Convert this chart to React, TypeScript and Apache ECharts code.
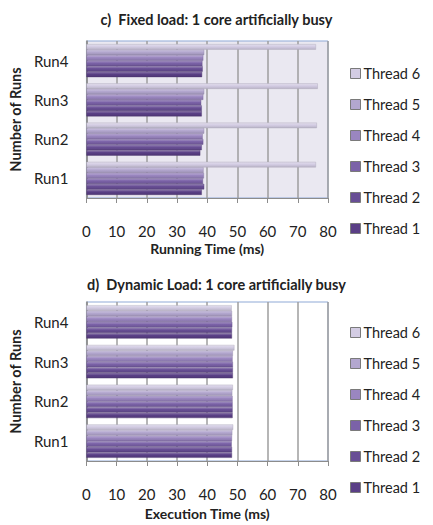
import React, { useEffect, useRef } from "react";
import * as echarts from "echarts";

// Runs on the category axis (bottom to top)
const runs = ["Run1", "Run2", "Run3", "Run4"];
const threadNames = ["Thread 1", "Thread 2", "Thread 3", "Thread 4", "Thread 5", "Thread 6"];
const xTicks = [0, 10, 20, 30, 40, 50, 60, 70, 80];

// c) Fixed load — running time (ms) per thread, Run1..Run4
const fixedThread1 = [38.2, 37.7, 38.2, 38.3];
const fixedThread2 = [39.0, 38.2, 38.2, 38.5];
const fixedThread3 = [38.6, 38.7, 38.0, 38.4];
const fixedThread4 = [38.9, 38.5, 38.7, 38.7];
const fixedThread5 = [38.8, 39.0, 39.0, 39.0];
const fixedThread6 = [76.0, 76.3, 76.6, 76.0];

// d) Dynamic load — execution time (ms) per thread, Run1..Run4
const dynThread1 = [48.2, 48.4, 48.5, 48.2];
const dynThread2 = [48.2, 48.4, 48.5, 48.2];
const dynThread3 = [48.1, 48.4, 48.5, 48.3];
const dynThread4 = [48.2, 48.4, 48.4, 48.2];
const dynThread5 = [48.3, 48.3, 48.5, 48.2];
const dynThread6 = [48.6, 48.5, 49.0, 48.1];

const fixedSeries = [fixedThread1, fixedThread2, fixedThread3, fixedThread4, fixedThread5, fixedThread6];
const dynSeries = [dynThread1, dynThread2, dynThread3, dynThread4, dynThread5, dynThread6];

const threadColors = ["#5a3f86", "#684e95", "#7b62a8", "#9a86c0", "#b3a7cf", "#d3cce3"];

const FONT = "Lato, 'Open Sans', sans-serif";

function shade(hex: string, amt: number): string {
  const n = parseInt(hex.slice(1), 16);
  let r = (n >> 16) & 255, g = (n >> 8) & 255, b = n & 255;
  const f = (c: number) => Math.max(0, Math.min(255, Math.round(amt > 0 ? c + (255 - c) * amt : c * (1 + amt))));
  r = f(r); g = f(g); b = f(b);
  return "#" + ((1 << 24) | (r << 16) | (g << 8) | b).toString(16).slice(1);
}

function barColor(hex: string) {
  return new echarts.graphic.LinearGradient(0, 0, 0, 1, [
    { offset: 0, color: shade(hex, 0.35) },
    { offset: 0.45, color: hex },
    { offset: 1, color: shade(hex, -0.12) },
  ]);
}

// Thread 6 is listed first so that it sits at the top of each run's group
function makeSeries(data: number[][], gridIndex: number) {
  const list = data.map((vals, i) => ({
    name: threadNames[i],
    type: "bar",
    xAxisIndex: gridIndex,
    yAxisIndex: gridIndex,
    data: vals,
    barGap: "0%",
    barCategoryGap: "16%",
    itemStyle: { color: barColor(threadColors[i]), borderColor: shade(threadColors[i], -0.2), borderWidth: 0.4 },
  }));
  return list.reverse();
}

function xAxis(gridIndex: number, name: string, nameGap: number) {
  return {
    type: "value",
    gridIndex,
    min: xTicks[0],
    max: xTicks[xTicks.length - 1],
    interval: xTicks[1] - xTicks[0],
    name,
    nameLocation: "middle",
    nameGap,
    nameTextStyle: { fontFamily: FONT, fontWeight: "bold", fontSize: 14, color: "#222" },
    axisLine: { show: true, lineStyle: { color: "#8c8c8c", width: 1 } },
    axisTick: { show: true, length: 5, lineStyle: { color: "#8c8c8c" } },
    axisLabel: { fontFamily: FONT, fontSize: 15, color: "#222", margin: 25 },
    splitLine: { show: true, lineStyle: { color: "#9e9e9e", width: 1.5 } },
  };
}

function yAxis(gridIndex: number) {
  return {
    type: "category",
    gridIndex,
    data: runs,
    name: "Number of Runs",
    nameLocation: "middle",
    nameGap: 62,
    nameTextStyle: { fontFamily: FONT, fontWeight: "bold", fontSize: 14.5, color: "#222" },
    axisLine: { show: true, lineStyle: { color: "#8c8c8c", width: 1.5 } },
    axisTick: { show: false },
    axisLabel: { fontFamily: FONT, fontSize: 15, color: "#222", margin: 18 },
  };
}

// Legend lists Thread 6 first, each swatch a flat fill with a grey outline
function legend(top: number) {
  return {
    orient: "vertical",
    left: 345,
    top,
    itemWidth: 10,
    itemHeight: 10,
    itemGap: 16,
    data: threadNames
      .map((name, i) => ({
        name,
        icon: "rect",
        itemStyle: { color: threadColors[i], borderColor: "#7a7a7a", borderWidth: 1 },
      }))
      .reverse(),
    textStyle: { fontFamily: FONT, fontSize: 14.5, color: "#222", padding: [0, 0, 0, -2] },
  };
}

export default function App() {
  const ref = useRef<HTMLDivElement>(null);

  useEffect(() => {
    if (!ref.current) return;
    const chart = echarts.init(ref.current, undefined, { renderer: "svg" });
    chart.setOption({
      animation: false,
      backgroundColor: "#ffffff",
      title: [
        {
          text: "c)  Fixed load: 1 core artificially busy",
          left: "center",
          top: 7,
          textStyle: { fontFamily: FONT, fontWeight: "bold", fontSize: 14.5, color: "#222" },
        },
        {
          text: "d)  Dynamic Load: 1 core artificially busy",
          left: "center",
          top: 272,
          textStyle: { fontFamily: FONT, fontWeight: "bold", fontSize: 14.5, color: "#222" },
        },
      ],
      legend: [legend(61), legend(320)],
      grid: [
        {
          left: 86, top: 41, width: 242, height: 157,
          show: true, backgroundColor: "#eae8f1", borderColor: "#8fa9d6", borderWidth: 1,
        },
        {
          left: 84, top: 302, width: 244, height: 159,
          show: true, backgroundColor: "#ffffff", borderColor: "#8fa9d6", borderWidth: 1,
        },
      ],
      xAxis: [xAxis(0, "Running Time (ms)", 43), xAxis(1, "Execution Time (ms)", 45)],
      yAxis: [yAxis(0), yAxis(1)],
      series: [...makeSeries(fixedSeries, 0), ...makeSeries(dynSeries, 1)],
    });
    return () => chart.dispose();
  }, []);

  return (
    <div
      ref={ref}
      style={{ position: "absolute", left: 0, top: 0, width: 433, height: 525 }}
    />
  );
}
